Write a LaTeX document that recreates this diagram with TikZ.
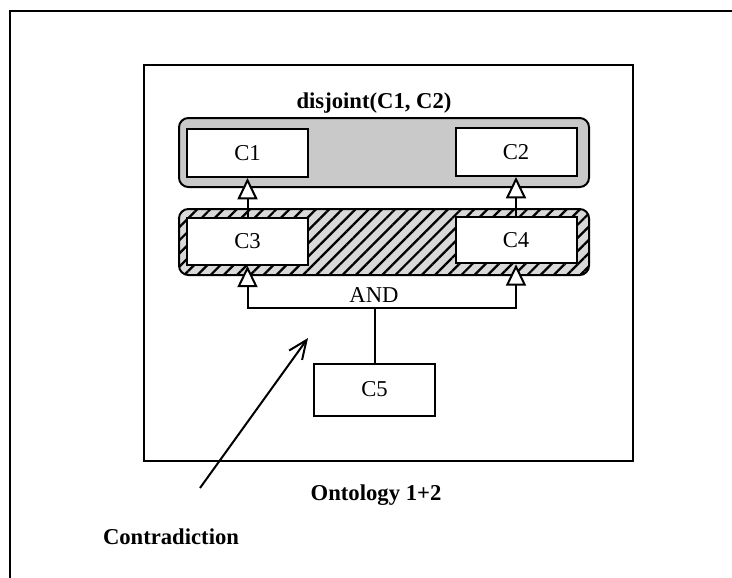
\documentclass[tikz,border=0pt]{standalone}
\usepackage{fontspec}
\setmainfont{Liberation Serif}
\usetikzlibrary{arrows.meta,patterns.meta}
\begin{document}
\begin{tikzpicture}[x=0.75pt,y=-0.75pt,
  txt/.style={font=\fontsize{17}{20}\selectfont},
  btxt/.style={font=\fontsize{17}{20}\selectfont\bfseries},
  cbox/.style={draw,line width=1.5pt,fill=white,minimum width=90.75pt,minimum height=36pt,inner sep=0pt,txt},
  band/.style={draw,line width=1.5pt,rounded corners=7pt,minimum width=307.5pt,inner sep=0pt},
  gen/.style={line width=1.5pt,-{Triangle[length=16pt,width=15pt,fill=white,line width=1.5pt]}},
  plain/.style={line width=1.5pt},
  frame/.style={line width=2pt}]
\useasboundingbox (0,0) rectangle (732,578);
% outer frame (top and left only)
\draw[frame] (10,578) -- (10,11) -- (732,11);
% inner box
\node[draw,line width=1.5pt,minimum width=366.75pt,minimum height=297pt,inner sep=0pt] (inner) at (388.5,263) {};
% bands
\node[band,fill=gray!42,minimum height=51.75pt] (gband) at (384,152.5) {};
\node[band,preaction={fill=gray!30},pattern={Lines[angle=45,distance=7pt,line width=1.7pt]},pattern color=black,minimum height=49.5pt] (hband) at (384,242) {};
% class boxes
\node[cbox] (C1) at (247.5,153) {C1};
\node[cbox] (C2) at (516,152) {C2};
\node[cbox,minimum height=35pt] (C3) at (247.5,241.5) {C3};
\node[cbox,minimum height=35pt] (C4) at (516,240) {C4};
\node[cbox,minimum height=39pt] (C5) at (374.5,389.5) {C5};
% labels
\node[btxt] (disj) at (374,103) {disjoint(C1, C2)};
\node[txt] (and) at (374,295) {AND};
\node[btxt] (onto) at (376,495) {Ontology 1+2};
\node[btxt] (contra) at (171,537) {Contradiction};
% generalisations
\draw[gen] (C3.north) -- (C1.south);
\draw[gen] (C4.north) -- (C2.south);
\coordinate (j) at (374.5,308);
\draw[plain] (C5.north) -- (j);
\draw[gen] (j) -| (C3.south);
\draw[gen] (j) -| (C4.south);
% contradiction arrow
\coordinate (ctail) at (200,488);
\coordinate (ctip) at (308,338);
\draw[line width=1.5pt,-{Straight Barb[length=14pt,width=12pt,line width=1.5pt]}] (ctail) -- (ctip);
\end{tikzpicture}
\end{document}
